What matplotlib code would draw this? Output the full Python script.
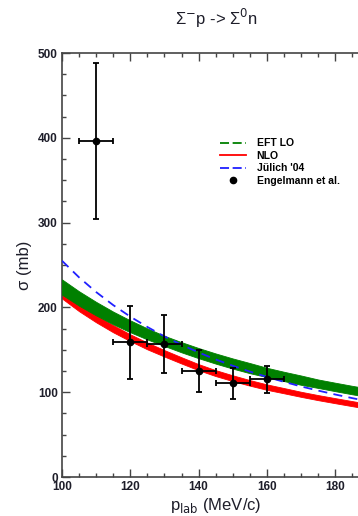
import matplotlib
matplotlib.use("Agg")
import matplotlib.pyplot as plt
from matplotlib.lines import Line2D
from matplotlib.ticker import MultipleLocator, FixedLocator

plt.rcParams['font.family'] = ['Liberation Sans', 'DejaVu Sans']

# ---- data ----
p_curve = [100, 105, 110, 115, 120, 125, 130, 135, 140, 145, 150, 155, 160, 165, 170, 175, 180, 185, 190]
eft_lo_center = [224, 210.5, 198.5, 187.5, 177.7, 168.7, 160.5, 153.0, 146.1, 139.7, 133.8, 128.4, 123.3, 118.6, 114.2, 110.0, 106.2, 102.5, 99.1]
eft_lo_halfwidth = [9, 8.5, 8, 7.5, 7, 6.5, 6, 6, 6, 6, 6, 6, 5.5, 5.5, 5.5, 5, 5, 5, 5]
nlo_center = [215, 200.0, 186.7, 174.8, 164.2, 154.5, 145.8, 137.5, 129.5, 122.5, 116.5, 111.0, 106.0, 101.8, 97.5, 93.6, 90.0, 86.5, 83.1]
nlo_halfwidth = [4.5, 4.5, 4.3, 4.2, 4, 4, 3.8, 3.7, 3.6, 3.5, 3.4, 3.3, 3.2, 3.1, 3.0, 3.0, 3.0, 3.0, 3.0]
julich04 = [255, 235.4, 218.1, 202.7, 189.1, 176.9, 165.8, 155.9, 146.9, 138.6, 131.2, 124.3, 118.0, 112.2, 106.8, 101.9, 97.3, 93.0, 89.0]

p_data = [110, 120, 130, 140, 150, 160]
sigma_data = [396, 159, 157, 125, 110.5, 115]
sigma_err = [92, 43, 34, 25, 18, 16]
p_err = [5, 5, 5, 5, 5, 5]

x_ticks = [100, 120, 140, 160, 180]
legend_labels = ["EFT LO", "NLO", "J\u00fclich '04", "Engelmann et al."]

# ---- figure ----
W, H = 358, 516
fig = plt.figure(figsize=(W / 100, H / 100), dpi=100)
ax = fig.add_axes([62 / W, (H - 477) / H, 341.5 / W, 424 / H])

g_lo = [c - h for c, h in zip(eft_lo_center, eft_lo_halfwidth)]
g_hi = [c + h for c, h in zip(eft_lo_center, eft_lo_halfwidth)]
r_lo = [c - h for c, h in zip(nlo_center, nlo_halfwidth)]
r_hi = [c + h for c, h in zip(nlo_center, nlo_halfwidth)]

ax.fill_between(p_curve, r_lo, r_hi, color='#ff0000', lw=0.6, edgecolor='#ff0000', zorder=2)
ax.fill_between(p_curve, g_lo, g_hi, color='#008000', lw=0.6, edgecolor='#008000', zorder=3)
ax.plot(p_curve, julich04, color='#2020ff', lw=1.3, ls=(0, (5, 3.5)), zorder=4)

ax.errorbar(p_data, sigma_data, yerr=sigma_err, xerr=p_err, fmt='o', color='black',
            ms=4.5, elinewidth=1.3, capsize=2.2, capthick=1.3, zorder=5)

ax.set_xlim(100, 200)
ax.set_ylim(0, 500)
ax.xaxis.set_major_locator(FixedLocator(x_ticks + [200]))
ax.set_xticklabels([str(t) for t in x_ticks] + [""])
ax.xaxis.set_minor_locator(MultipleLocator(5))
ax.yaxis.set_major_locator(MultipleLocator(100))
ax.yaxis.set_minor_locator(MultipleLocator(25))

spine_c = '#444444'
for s in ax.spines.values():
    s.set_color(spine_c)
    s.set_linewidth(1.2)
ax.tick_params(which='both', direction='in', top=True, right=True, color=spine_c, width=1.0)
ax.tick_params(which='major', length=5.8)
ax.tick_params(which='minor', length=3.2)
ax.tick_params(labelsize=8.5, labelcolor='#1e1e2a', pad=3)
for lab in ax.get_xticklabels() + ax.get_yticklabels():
    lab.set_fontweight('bold')

ax.set_ylabel("\u03c3 (mb)", fontsize=12, color='#1e1e2a', labelpad=4)
ax.set_xlabel("p$_{\\mathrm{lab}}$ (MeV/c)", fontsize=12, color='#1e1e2a', labelpad=1)
ax.xaxis.set_label_coords((216 - 62) / 341.5, -0.045)

fig.text(216 / W, 1 - 18 / H, "\u03a3$^{-}$p -> \u03a3$^{0}$n", ha='center', va='center',
         fontsize=12, color='#1e1e2a')

handles = [
    Line2D([], [], color='#008000', lw=1.3, ls=(0, (5, 2))),
    Line2D([], [], color='#ff0000', lw=1.3),
    Line2D([], [], color='#2020ff', lw=1.3, ls=(0, (5, 2))),
    Line2D([], [], color='black', marker='o', ls='none', ms=4.5),
]
leg = fig.legend(handles, legend_labels, loc='upper left',
                 bbox_to_anchor=(215 / W, 1 - 133 / H), frameon=False,
                 prop={'size': 7.5, 'weight': 'bold'}, handlelength=2.5,
                 handletextpad=1.0, labelspacing=0.25, borderpad=0)

fig.savefig("out.png", dpi=100)
